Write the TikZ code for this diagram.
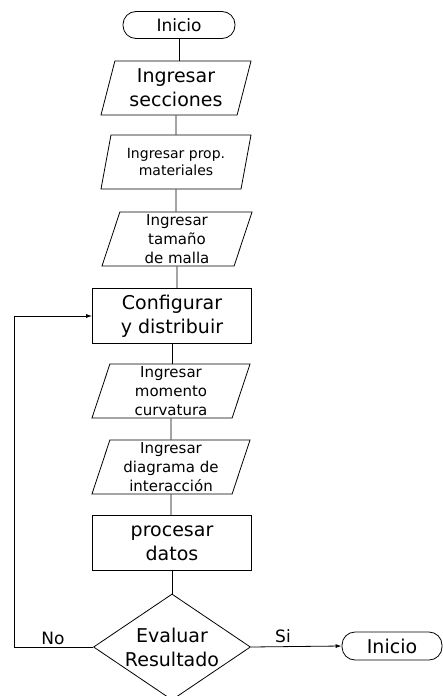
\documentclass[tikz,border=0pt]{standalone}
\usepackage{fontspec}
\setmainfont{DejaVu Sans}
\usetikzlibrary{shapes.geometric,arrows.meta,positioning}
\newcommand{\grande}{\fontsize{19}{24}\selectfont}
\newcommand{\chico}{\fontsize{15}{19}\selectfont}
\tikzset{
  entrada/.style={draw,trapezium,trapezium left angle=70,trapezium right angle=110,
    trapezium stretches body,minimum width=150pt,minimum height=54pt,inner sep=0pt,align=center},
  proceso/.style={draw,rectangle,minimum width=159pt,minimum height=55pt,inner sep=0pt,
    align=center,font=\grande},
  terminal/.style={draw,rectangle,rounded corners=13pt,minimum height=27pt,inner sep=0pt},
  decision/.style={draw,diamond,aspect=1.48,minimum width=157pt,minimum height=106pt,
    inner sep=0pt,align=center,font=\grande},
  flecha/.style={-{Latex[length=6pt,width=4pt]}}
}
\begin{document}
\begin{tikzpicture}[x=1pt,y=-1pt,line width=0.8pt]
\path[use as bounding box,clip] (0,0) rectangle (443,696);
%columna principal
\node[terminal,minimum width=112pt,font=\fontsize{17}{20}\selectfont] (ini) at (179,25) {Inicio};
\node[entrada,font=\grande] (secc) at (176,88) {Ingresar\\secciones};
\node[entrada,font=\fontsize{14}{17}\selectfont] (mat) at (176,162) {Ingresar prop.\\materiales};
\node[entrada,font=\chico] (tam) at (177,239) {Ingresar\\tamaño\\de malla};
\node[proceso] (conf) at (172,316) {Configurar\\y distribuir};
\node[entrada,font=\chico,minimum width=158pt] (mom) at (171,391) {Ingresar\\momento\\curvatura};
\node[entrada,font=\chico,minimum width=158pt] (diag) at (171,467) {Ingresar\\diagrama de\\interacción};
\node[proceso] (proc) at (172,543) {procesar\\datos};
\node[decision] (eval) at (172,647) {Evaluar\\Resultado};
\node[terminal,minimum width=100pt,minimum height=28pt,font=\fontsize{19}{22}\selectfont] (fin) at (392,646) {Inicio};
%conectores
\draw (ini) -- (ini |- secc.north);
\draw (secc) -- (secc |- mat.north);
\draw (mat) -- (mat |- tam.north);
\draw (tam) -- (tam |- conf.north);
\draw (conf) -- (conf |- mom.north);
\draw (mom) -- (mom |- diag.north);
\draw (diag) -- (diag |- proc.north);
\draw (proc) -- (eval);
%lazo de retorno
\coordinate (esq) at (14,647);
\draw[flecha] (eval.west) -- (esq) |- (conf.west);
\draw[flecha] (eval.east) -- (fin.west);
\node[font=\fontsize{17}{20}\selectfont] (no) at (53,638) {No};
\node[font=\fontsize{17}{20}\selectfont] (si) at (283,636) {Si};
\end{tikzpicture}
\end{document}
